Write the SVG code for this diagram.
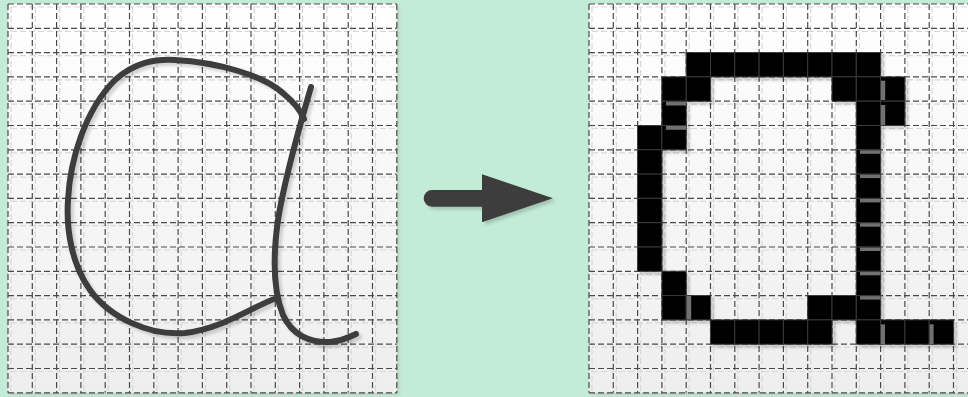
<svg xmlns="http://www.w3.org/2000/svg" xmlns:xlink="http://www.w3.org/1999/xlink" width="968" height="397" viewBox="0 0 968 397">
<style>
.bg{fill:url(#paper);}
.grid{fill:none;stroke:#4a4a4a;stroke-width:1.2;stroke-dasharray:6 3;}
.gridsh{fill:none;stroke:#d8d8d8;stroke-width:1.2;stroke-dasharray:6 3;}
.ink{fill:none;stroke:#3d3d3d;stroke-width:6;stroke-linecap:round;stroke-linejoin:round;}
.px{fill:#000;stroke:#3a3a3a;stroke-width:1;}
.bar{fill:#707070;}
</style>
<defs>
<linearGradient id="paper" x1="0" y1="0" x2="0" y2="1">
<stop offset="0" stop-color="#ffffff"/>
<stop offset="1" stop-color="#eeeeee"/>
</linearGradient>
<filter id="sh" x="-10%" y="-10%" width="130%" height="130%">
<feDropShadow dx="3" dy="3" stdDeviation="1.5" flood-color="#000" flood-opacity="0.16"/>
</filter>
<filter id="psh" x="-5%" y="-5%" width="115%" height="115%">
<feDropShadow dx="2" dy="2" stdDeviation="2" flood-color="#000" flood-opacity="0.12"/>
</filter>
<path id="gridpath" d="M0,0V388.8M24.3,0V388.8M48.6,0V388.8M72.9,0V388.8M97.2,0V388.8M121.5,0V388.8M145.8,0V388.8M170.1,0V388.8M194.4,0V388.8M218.7,0V388.8M243,0V388.8M267.3,0V388.8M291.6,0V388.8M315.9,0V388.8M340.2,0V388.8M364.5,0V388.8M388.8,0V388.8M0,0H388.8M0,24.3H388.8M0,48.6H388.8M0,72.9H388.8M0,97.2H388.8M0,121.5H388.8M0,145.8H388.8M0,170.1H388.8M0,194.4H388.8M0,218.7H388.8M0,243H388.8M0,267.3H388.8M0,291.6H388.8M0,315.9H388.8M0,340.2H388.8M0,364.5H388.8M0,388.8H388.8"/>
</defs>
<rect x="0" y="0" width="968" height="397" fill="#c3ecd7"/>

<g id="sketch-panel">
<rect class="bg" x="8" y="4" width="388.8" height="388.8" filter="url(#psh)"/>
<use href="#gridpath" class="gridsh" x="11" y="7"/>
<use href="#gridpath" class="grid" x="8" y="4"/>
<g filter="url(#sh)">
<path class="ink" d="M277,298 C255,305 225,328 185,333 C150,336 110,318 90,290 C72,265 66,230 68,200 C70,160 85,110 115,80 C135,62 155,59 175,60 C215,62 265,75 285,95 C295,103 301,112 304,119"/>
<path class="ink" d="M311,87 C303,115 285,175 278,220 C273,255 273,290 283,315 C292,335 310,343 330,342 C342,341 350,337 356,334"/>
</g>
</g>

<g id="connectors">
<path d="M432,190 H482 V174.3 L553,198.3 L482,222.3 V206.7 H432 A8.35,8.35 0 0 1 432,190 Z" fill="#3d3d3d" filter="url(#sh)"/>
</g>

<g id="pixel-panel">
<rect class="bg" x="589" y="4" width="388.8" height="388.8" filter="url(#psh)"/>
<use href="#gridpath" class="gridsh" x="592" y="7"/>
<use href="#gridpath" class="grid" x="589" y="4"/>
<g transform="translate(589,4)">
<g filter="url(#sh)">
<rect class="px" x="97.2" y="48.6" width="24.3" height="24.3"/>
<rect class="px" x="121.5" y="48.6" width="24.3" height="24.3"/>
<rect class="px" x="145.8" y="48.6" width="24.3" height="24.3"/>
<rect class="px" x="170.1" y="48.6" width="24.3" height="24.3"/>
<rect class="px" x="194.4" y="48.6" width="24.3" height="24.3"/>
<rect class="px" x="218.7" y="48.6" width="24.3" height="24.3"/>
<rect class="px" x="243" y="48.6" width="24.3" height="24.3"/>
<rect class="px" x="267.3" y="48.6" width="24.3" height="24.3"/>
<rect class="px" x="72.9" y="72.9" width="24.3" height="24.3"/>
<rect class="px" x="97.2" y="72.9" width="24.3" height="24.3"/>
<rect class="px" x="243" y="72.9" width="24.3" height="24.3"/>
<rect class="px" x="267.3" y="72.9" width="24.3" height="24.3"/>
<rect class="px" x="291.6" y="72.9" width="24.3" height="24.3"/>
<rect class="px" x="72.9" y="97.2" width="24.3" height="24.3"/>
<rect class="px" x="267.3" y="97.2" width="24.3" height="24.3"/>
<rect class="px" x="291.6" y="97.2" width="24.3" height="24.3"/>
<rect class="px" x="48.6" y="121.5" width="24.3" height="24.3"/>
<rect class="px" x="72.9" y="121.5" width="24.3" height="24.3"/>
<rect class="px" x="267.3" y="121.5" width="24.3" height="24.3"/>
<rect class="px" x="48.6" y="145.8" width="24.3" height="24.3"/>
<rect class="px" x="267.3" y="145.8" width="24.3" height="24.3"/>
<rect class="px" x="48.6" y="170.1" width="24.3" height="24.3"/>
<rect class="px" x="267.3" y="170.1" width="24.3" height="24.3"/>
<rect class="px" x="48.6" y="194.4" width="24.3" height="24.3"/>
<rect class="px" x="267.3" y="194.4" width="24.3" height="24.3"/>
<rect class="px" x="48.6" y="218.7" width="24.3" height="24.3"/>
<rect class="px" x="267.3" y="218.7" width="24.3" height="24.3"/>
<rect class="px" x="48.6" y="243" width="24.3" height="24.3"/>
<rect class="px" x="267.3" y="243" width="24.3" height="24.3"/>
<rect class="px" x="72.9" y="267.3" width="24.3" height="24.3"/>
<rect class="px" x="267.3" y="267.3" width="24.3" height="24.3"/>
<rect class="px" x="72.9" y="291.6" width="24.3" height="24.3"/>
<rect class="px" x="97.2" y="291.6" width="24.3" height="24.3"/>
<rect class="px" x="218.7" y="291.6" width="24.3" height="24.3"/>
<rect class="px" x="243" y="291.6" width="24.3" height="24.3"/>
<rect class="px" x="267.3" y="291.6" width="24.3" height="24.3"/>
<rect class="px" x="121.5" y="315.9" width="24.3" height="24.3"/>
<rect class="px" x="145.8" y="315.9" width="24.3" height="24.3"/>
<rect class="px" x="170.1" y="315.9" width="24.3" height="24.3"/>
<rect class="px" x="194.4" y="315.9" width="24.3" height="24.3"/>
<rect class="px" x="218.7" y="315.9" width="24.3" height="24.3"/>
<rect class="px" x="267.3" y="315.9" width="24.3" height="24.3"/>
<rect class="px" x="291.6" y="315.9" width="24.3" height="24.3"/>
<rect class="px" x="315.9" y="315.9" width="24.3" height="24.3"/>
<rect class="px" x="340.2" y="315.9" width="24.3" height="24.3"/>
</g>
<g>
<rect class="bar" x="77" y="97.7" width="20" height="3.8"/>
<rect class="bar" x="77" y="122" width="20" height="3.8"/>
<rect class="bar" x="271" y="146.3" width="20.5" height="3.5"/>
<rect class="bar" x="271" y="170.6" width="20.5" height="3.5"/>
<rect class="bar" x="271" y="194.9" width="20.5" height="3.5"/>
<rect class="bar" x="271" y="219.2" width="20.5" height="3.5"/>
<rect class="bar" x="271" y="243.5" width="20.5" height="3.5"/>
<rect class="bar" x="271" y="267.8" width="20.5" height="3.5"/>
<rect class="bar" x="271" y="292.1" width="20.5" height="3.5"/>
<rect class="bar" x="292" y="76.7" width="4.2" height="19.3"/>
<rect class="bar" x="292" y="101" width="4.2" height="20"/>
<rect class="bar" x="97.6" y="292" width="4.6" height="23.5"/>
<rect class="bar" x="292" y="320.3" width="4" height="20"/>
<rect class="bar" x="340.6" y="320.3" width="4" height="20"/>
</g>
</g>
</g>
</svg>
